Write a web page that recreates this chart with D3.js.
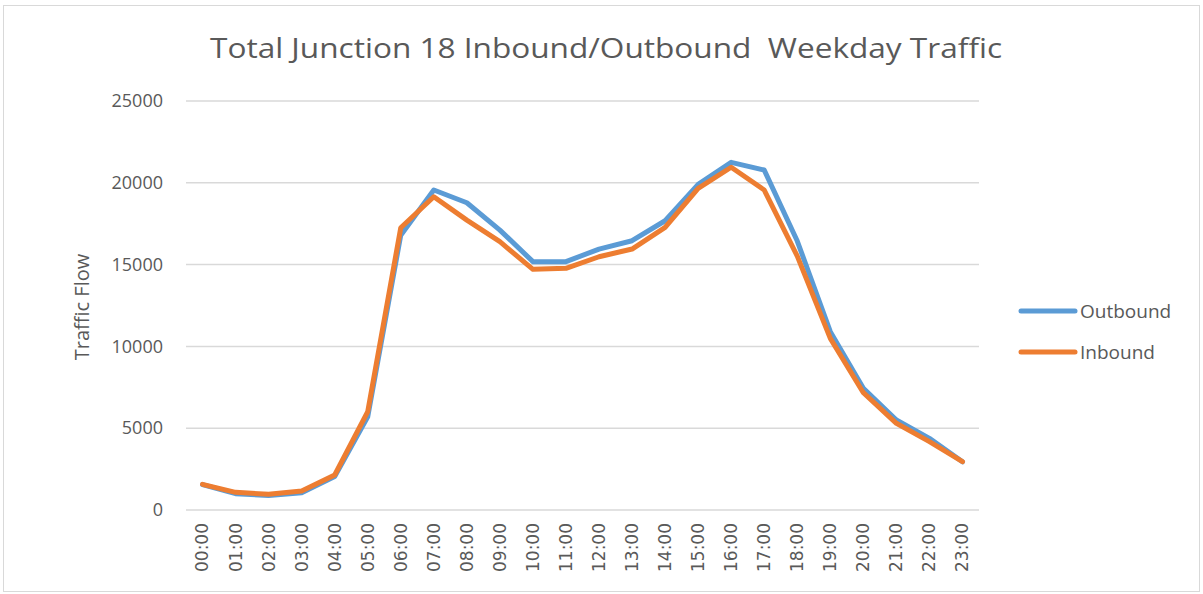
<!DOCTYPE html>
<html>
<head>
<meta charset="utf-8">
<script src="https://cdn.jsdelivr.net/npm/d3@7"></script>
<style>
  body { margin: 0; background: #fff; }
  text { font-family: "Open Sans", "Liberation Sans", sans-serif; fill: #595959; }
</style>
</head>
<body>
<svg id="chart" width="1203" height="594"></svg>
<script>
const hours = ['00:00','01:00','02:00','03:00','04:00','05:00','06:00','07:00','08:00','09:00','10:00','11:00',
  '12:00','13:00','14:00','15:00','16:00','17:00','18:00','19:00','20:00','21:00','22:00','23:00']
const outbound = [1550, 1000, 880, 1050, 2040, 5700, 16800, 19560, 18780, 17110, 15180, 15180,
  15950, 16460, 17680, 19900, 21250, 20780, 16440, 10900, 7440, 5500, 4380, 2950]
const inbound = [1570, 1080, 960, 1160, 2140, 6010, 17250, 19150, 17720, 16400, 14710, 14770,
  15480, 15950, 17280, 19660, 20950, 19560, 15520, 10490, 7170, 5300, 4180, 2950]
const yTicks = [0, 5000, 10000, 15000, 20000, 25000]
const seriesNames = ['Outbound', 'Inbound']
const colors = ['#5b9bd5', '#ed7d31']

const svg = d3.select('#chart')
const plotLeft = 186, plotRight = 979, plotTop = 101, plotBottom = 510

// chart frame
svg.append('rect')
  .attr('x', 3.5).attr('y', 5.5)
  .attr('width', 1196).attr('height', 586)
  .attr('fill', 'none').attr('stroke', '#d9d9d9')

svg.append('text')
  .attr('x', 606).attr('y', 58)
  .attr('text-anchor', 'middle')
  .attr('font-size', '28px')
  .attr('textLength', 792)
  .attr('lengthAdjust', 'spacingAndGlyphs')
  .style('white-space', 'pre')
  .text('Total Junction 18 Inbound/Outbound  Weekday Traffic')

const x = d3.scaleBand().domain(hours).range([plotLeft, plotRight])
const y = d3.scaleLinear().domain([0, 25000]).range([plotBottom, plotTop])

// gridlines
svg.append('g').selectAll('line')
  .data(yTicks)
  .enter().append('line')
  .attr('x1', plotLeft).attr('x2', plotRight)
  .attr('y1', d => y(d)).attr('y2', d => y(d))
  .attr('stroke', '#d9d9d9').attr('stroke-width', 1.5)

// y axis labels
const yAxis = svg.append('g')
  .attr('transform', 'translate(' + (plotLeft - 23) + ',0)')
  .call(d3.axisLeft(y).tickValues(yTicks).tickFormat(d3.format('d')).tickSize(0).tickPadding(0))
yAxis.select('.domain').remove()
yAxis.selectAll('text')
  .attr('font-size', '18px').attr('fill', '#595959')
  .style('font-family', '"Open Sans", sans-serif')

svg.append('text')
  .attr('transform', 'translate(89,307) rotate(-90)')
  .attr('text-anchor', 'middle')
  .attr('font-size', '20px')
  .text('Traffic Flow')

// x axis labels
const xAxis = svg.append('g')
  .attr('transform', 'translate(0,' + plotBottom + ')')
  .call(d3.axisBottom(x).tickSize(0).tickPadding(0))
xAxis.select('.domain').remove()
xAxis.selectAll('text')
  .attr('font-size', '17px').attr('fill', '#595959')
  .style('font-family', '"DejaVu Sans", sans-serif')
  .attr('text-anchor', 'end')
  .attr('dy', '0.35em')
  .attr('transform', 'translate(0,13) rotate(-90)')
  .attr('y', 0).attr('x', 0)

const line = d3.line()
  .x((d, i) => x(hours[i]) + x.bandwidth() / 2)
  .y(d => y(d))

;[outbound, inbound].forEach((data, k) => {
  svg.append('path')
    .datum(data)
    .attr('d', line)
    .attr('fill', 'none')
    .attr('stroke', colors[k])
    .attr('stroke-width', 5)
    .attr('stroke-linejoin', 'round')
    .attr('stroke-linecap', 'round')
})

// legend
const legend = svg.append('g').selectAll('g')
  .data(seriesNames)
  .enter().append('g')
  .attr('transform', (d, i) => 'translate(1021,' + (311 + i * 41) + ')')
legend.append('line')
  .attr('x1', 0).attr('x2', 54)
  .attr('stroke', (d, i) => colors[i])
  .attr('stroke-width', 5)
  .attr('stroke-linecap', 'round')
legend.append('text')
  .attr('x', 59).attr('dy', '0.35em')
  .attr('font-size', '19px')
  .text(d => d)
</script>
</body>
</html>
